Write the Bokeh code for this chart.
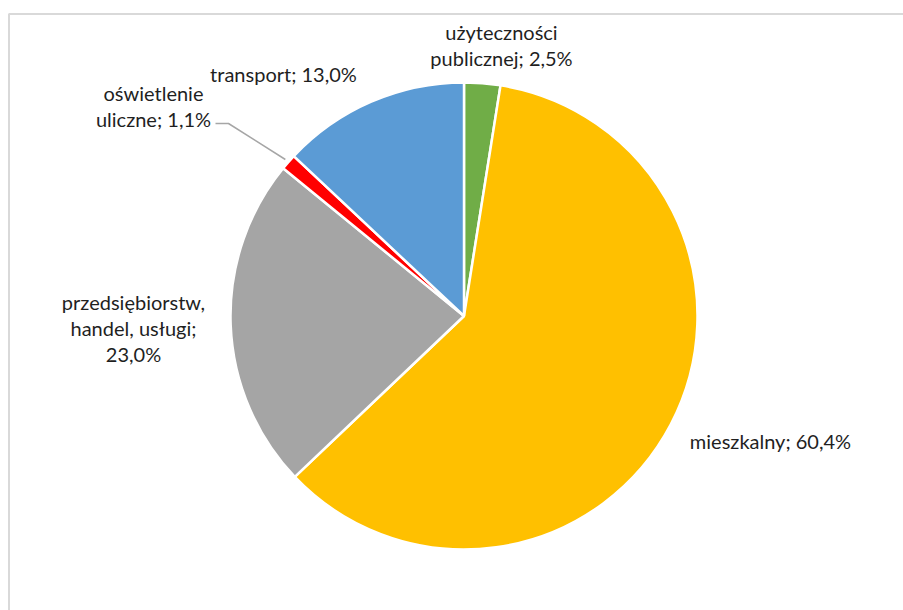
import math
from bokeh.plotting import figure
from bokeh.models import Range1d, ColumnDataSource
from bokeh.core.properties import value
from bokeh.embed import file_html
from bokeh.resources import INLINE

# ---- data ----
categories = ["użyteczności publicznej", "mieszkalny", "przedsiębiorstw, handel, usługi",
              "oświetlenie uliczne", "transport"]
shares = [2.5, 60.4, 23.0, 1.1, 13.0]
colors = ["#70AD47", "#FFC000", "#A5A5A5", "#FF0000", "#5B9BD5"]
# how each data label is broken into lines
label_lines = [
    ["użyteczności", "publicznej; 2,5%"],
    ["mieszkalny; 60,4%"],
    ["przedsiębiorstw,", "handel, usługi;", "23,0%"],
    ["oświetlenie", "uliczne; 1,1%"],
    ["transport; 13,0%"],
]

# ---- layout (page pixel coords; figure data units = pixels) ----
W, H = 903, 610
def px(x):
    return x
def py(y):
    return H - y

CX, CY, R = px(463.5), py(315.5), 233.5
label_anchor = [(501, 31), (770, 440), (133, 301), (153, 92), (283, 73)]
LINE_H = 26
FONT = "Lato"
FSIZE = "20px"
TXT = "#1f1f1f"

p = figure(width=W, height=H, output_backend="svg", toolbar_location=None,
           x_range=Range1d(0, W), y_range=Range1d(0, H), min_border=0,
           outline_line_color=None, background_fill_color="white",
           border_fill_color="white")
p.axis.visible = False
p.grid.visible = False

# chart-area border (only top and left edges fall inside the window)
p.line(x=[px(8.5), px(8.5), px(W + 20)], y=[py(H + 20), py(13.5), py(13.5)],
       line_color="#D9D9D9", line_width=2)

total = sum(shares)
starts, ends = [], []
acc = 0.0
for v in shares:
    starts.append(math.pi / 2 - 2 * math.pi * acc / total)
    acc += v
    ends.append(math.pi / 2 - 2 * math.pi * acc / total)

src = ColumnDataSource(dict(cat=categories, share=shares, color=colors,
                            start=starts, end=ends,
                            x=[CX] * len(shares), y=[CY] * len(shares)))
p.wedge(x="x", y="y", radius=R, radius_units="screen", start_angle="start", end_angle="end",
        direction="clock", fill_color="color", line_color="white", line_width=2.5, source=src)

# labels
tx, ty, tt = [], [], []
for (ax, ay), lines in zip(label_anchor, label_lines):
    for i, s in enumerate(lines):
        tx.append(px(ax))
        ty.append(py(ay + i * LINE_H))
        tt.append(s)
p.text(x=tx, y=ty, text=tt, text_font=value(FONT), text_font_size=FSIZE,
       text_color=TXT, text_align="center", text_baseline="middle")

# leader line for the small red slice
k = 3
mid = (starts[k] + ends[k]) / 2
ex, ey = CX + (R + 4) * math.cos(mid), CY + (R + 4) * math.sin(mid)
p.line(x=[px(215), px(228), ex], y=[py(123), py(123), ey], line_color="#A6A6A6", line_width=1.5)

open("out.html", "w").write(file_html(p, INLINE))
